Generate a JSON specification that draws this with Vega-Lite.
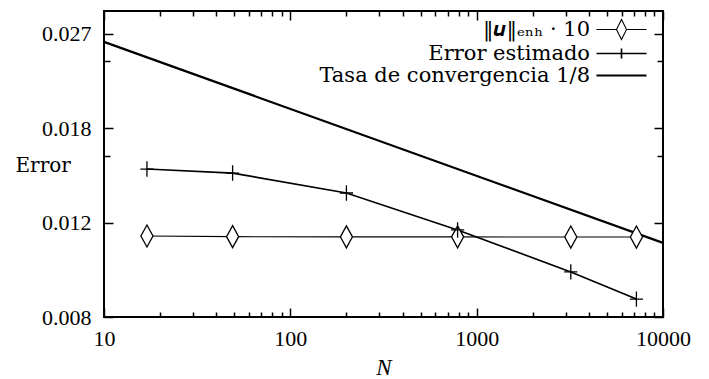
{
  "$schema": "https://vega.github.io/schema/vega-lite/v6.json",
  "width": 559,
  "height": 306,
  "autosize": "none",
  "padding": {"left": 104, "top": 11, "right": 46, "bottom": 62},
  "background": "white",
  "data": {
    "values": [
      {"N": 17, "err": 0.01133, "serie": "‖𝒖‖ₑₙₕ · 10"},
      {"N": 49, "err": 0.01130, "serie": "‖𝒖‖ₑₙₕ · 10"},
      {"N": 200, "err": 0.01129, "serie": "‖𝒖‖ₑₙₕ · 10"},
      {"N": 790, "err": 0.01129, "serie": "‖𝒖‖ₑₙₕ · 10"},
      {"N": 3200, "err": 0.01128, "serie": "‖𝒖‖ₑₙₕ · 10"},
      {"N": 7200, "err": 0.01128, "serie": "‖𝒖‖ₑₙₕ · 10"},
      {"N": 17, "err": 0.01511, "serie": "Error estimado"},
      {"N": 49, "err": 0.01485, "serie": "Error estimado"},
      {"N": 200, "err": 0.01363, "serie": "Error estimado"},
      {"N": 790, "err": 0.01163, "serie": "Error estimado"},
      {"N": 3200, "err": 0.00971, "serie": "Error estimado"},
      {"N": 7200, "err": 0.00864, "serie": "Error estimado"},
      {"N": 10, "err": 0.0261, "serie": "Tasa de convergencia 1/8"},
      {"N": 10000, "err": 0.0110, "serie": "Tasa de convergencia 1/8"}
    ]
  },
  "config": {
    "font": "DejaVu Serif",
    "view": {"stroke": "black", "strokeWidth": 2},
    "axis": {
      "domain": false,
      "grid": false,
      "tickColor": "black",
      "tickWidth": 1.5,
      "labelColor": "black",
      "labelFont": "Liberation Serif",
      "labelFontSize": 22,
      "labelOverlap": false,
      "labelFlush": false,
      "titleColor": "black",
      "titleFontWeight": "normal"
    },
    "legend": {
      "labelFont": "DejaVu Serif",
      "labelFontSize": 21,
      "labelColor": "black",
      "labelLimit": 400,
      "symbolSize": 324,
      "symbolOpacity": 1,
      "rowPadding": 0
    }
  },
  "layer": [
    {
      "mark": {"type": "line", "color": "black"},
      "encoding": {
        "x": {
          "field": "N", "type": "quantitative",
          "scale": {"type": "log", "domain": [10, 10000], "nice": false},
          "axis": {
            "orient": "bottom",
            "values": [10, 20, 30, 40, 50, 60, 70, 80, 90, 100, 200, 300, 400, 500, 600, 700, 800, 900, 1000, 2000, 3000, 4000, 5000, 6000, 7000, 8000, 9000, 10000],
            "format": "d",
            "labelExpr": "indexof([10, 100, 1000, 10000], datum.value) >= 0 ? datum.label : ''",
            "tickSize": {"condition": {"test": "indexof([10, 100, 1000, 10000], datum.value) >= 0", "value": -9}, "value": -5},
            "labelPadding": 20,
            "title": "N",
            "titleFont": "Liberation Serif",
            "titleFontStyle": "italic",
            "titleFontSize": 23,
            "titleBaseline": "middle",
            "titleY": 50
          }
        },
        "y": {
          "field": "err", "type": "quantitative",
          "scale": {"type": "log", "domain": [0.008, 0.0298], "nice": false},
          "axis": {
            "orient": "left",
            "values": [0.008, 0.012, 0.016, 0.018, 0.024, 0.027],
            "labelExpr": "indexof([0.008, 0.012, 0.018, 0.027], datum.value) >= 0 ? format(datum.value, '.3f') : ''",
            "tickSize": {"condition": {"test": "indexof([0.016, 0.024], datum.value) >= 0", "value": -6}, "value": -9},
            "labelPadding": 22,
            "title": "Error",
            "titleFont": "DejaVu Serif",
            "titleFontSize": 20,
            "titleAngle": 0,
            "titleAlign": "left",
            "titleBaseline": "middle",
            "titleX": -89,
            "titleY": 154
          }
        },
        "detail": {"field": "serie"},
        "strokeWidth": {
          "field": "serie", "type": "nominal",
          "scale": {"domain": ["‖𝒖‖ₑₙₕ · 10", "Error estimado", "Tasa de convergencia 1/8"], "range": [1.1, 2.2, 3]}
        }
      }
    },
    {
      "transform": [{"filter": "datum.serie === '‖𝒖‖ₑₙₕ · 10'"}],
      "mark": {"type": "point", "shape": "M0,-1L0.55,0L0,1L-0.55,0Z", "filled": true, "fill": "white", "stroke": "black", "strokeWidth": 1.3, "size": 484, "opacity": 1},
      "encoding": {
        "x": {
          "field": "N", "type": "quantitative",
          "axis": {
            "orient": "top",
            "values": [10, 20, 30, 40, 50, 60, 70, 80, 90, 100, 200, 300, 400, 500, 600, 700, 800, 900, 1000, 2000, 3000, 4000, 5000, 6000, 7000, 8000, 9000, 10000],
            "labels": false,
            "tickSize": {"condition": {"test": "indexof([10, 100, 1000, 10000], datum.value) >= 0", "value": -9}, "value": -5},
            "title": null
          }
        },
        "y": {
          "field": "err", "type": "quantitative",
          "axis": {
            "orient": "right",
            "values": [0.008, 0.012, 0.016, 0.018, 0.024, 0.027],
            "labels": false,
            "tickSize": {"condition": {"test": "indexof([0.016, 0.024], datum.value) >= 0", "value": -6}, "value": -9},
            "title": null
          }
        }
      }
    },
    {
      "transform": [{"filter": "datum.serie === 'Error estimado'"}],
      "mark": {"type": "point", "shape": "M-0.6,0H0.6M0,-0.7V0.7", "filled": false, "stroke": "black", "strokeWidth": 1.3, "size": 484, "opacity": 1},
      "encoding": {
        "x": {"field": "N", "type": "quantitative", "axis": null},
        "y": {"field": "err", "type": "quantitative", "axis": null}
      }
    },
    {
      "transform": [{"filter": "false"}],
      "mark": {"type": "point", "filled": false, "color": "black", "size": 324, "opacity": 1},
      "encoding": {
        "x": {"field": "N", "type": "quantitative", "axis": null},
        "y": {"field": "err", "type": "quantitative", "axis": null},
        "shape": {
          "field": "serie", "type": "nominal",
          "scale": {
            "domain": ["‖𝒖‖ₑₙₕ · 10", "Error estimado", "Tasa de convergencia 1/8"],
            "range": ["M-2.78,0H-0.56M0.56,0H2.78M0,-1.11L0.56,0L0,1.11L-0.56,0Z", "M-2.78,0H2.78M0,-0.56V0.56", "M-2.78,0H2.78"]
          },
          "legend": {
            "orient": "none",
            "legendX": 507,
            "legendY": 8,
            "title": null,
            "symbolSize": 324,
            "symbolOpacity": 1,
            "labelAlign": "right",
            "labelBaseline": "middle",
            "labelOffset": -42,
            "labelLimit": 400,
            "labelFont": "DejaVu Serif",
            "labelFontSize": 21,
            "labelColor": "black",
            "rowPadding": 0
          }
        },
        "strokeWidth": {
          "field": "serie", "type": "nominal",
          "legend": {
            "orient": "none",
            "legendX": 507,
            "legendY": 8,
            "title": null,
            "symbolSize": 324,
            "symbolOpacity": 1,
            "labelAlign": "right",
            "labelBaseline": "middle",
            "labelOffset": -42,
            "labelLimit": 400,
            "labelFont": "DejaVu Serif",
            "labelFontSize": 21,
            "labelColor": "black",
            "rowPadding": 0
          }
        }
      }
    }
  ],
  "resolve": {"axis": {"x": "independent", "y": "independent"}}
}
